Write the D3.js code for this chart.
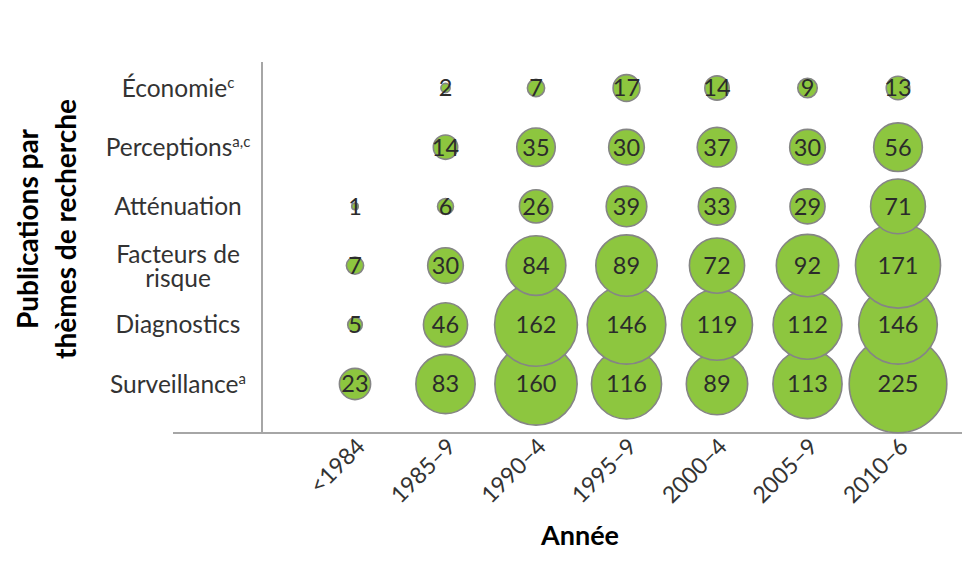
<!DOCTYPE html>
<html><head><meta charset="utf-8">
<script src="https://cdn.jsdelivr.net/npm/d3@7"></script>
<style>
html,body{margin:0;padding:0;background:#fff;}
svg{display:block;}
text{font-family:Lato,"Open Sans",sans-serif;}
</style></head>
<body>
<svg id="chart" width="980" height="574"></svg>
<script>
// ---- data ----
const periods = ["<1984","1985–9","1990–4","1995–9","2000–4","2005–9","2010–6"];
const themes = ["Économie","Perceptions","Atténuation","Facteurs de risque","Diagnostics","Surveillance"];
const themeLines = [["Économie"],["Perceptions"],["Atténuation"],["Facteurs de","risque"],["Diagnostics"],["Surveillance"]];
const themeSup = ["c","a,c","","","","a"];
const economie     = [null,2,7,17,14,9,13];
const perceptions  = [null,14,35,30,37,30,56];
const attenuation  = [1,6,26,39,33,29,71];
const facteurs     = [7,30,84,89,72,92,171];
const diagnostics  = [5,46,162,146,119,112,146];
const surveillance = [23,83,160,116,89,113,225];
const seriesValues = [economie,perceptions,attenuation,facteurs,diagnostics,surveillance];
const yTitle = ["Publications par","thèmes de recherche"];
const xTitle = "Année";

// ---- build ----
const svg = d3.select("#chart");
const x = d3.scalePoint().domain(periods).range([355, 898]);
const y = d3.scalePoint().domain(themes).range([88, 384]);
const r = d3.scaleSqrt().domain([0, 225]).range([0, 48.8]);

const cells = [];
// draw bottom row first so upper rows overlap on top
for (let ti = themes.length - 1; ti >= 0; ti--) {
  seriesValues[ti].forEach((v, pi) => {
    if (v != null) cells.push({theme: themes[ti], period: periods[pi], value: v});
  });
}

// axes lines
const axisColor = "#a6a6a6";
svg.append("line").attr("x1",262).attr("x2",262).attr("y1",62).attr("y2",433)
  .attr("stroke",axisColor).attr("stroke-width",2);
svg.append("line").attr("x1",173).attr("x2",962).attr("y1",433).attr("y2",433)
  .attr("stroke",axisColor).attr("stroke-width",2);

// bubbles
svg.append("g").selectAll("circle").data(cells).join("circle")
  .attr("cx", d => x(d.period))
  .attr("cy", d => y(d.theme))
  .attr("r", d => r(d.value))
  .attr("fill", "#8dc63f")
  .attr("stroke", "#858585")
  .attr("stroke-width", 1.6);

// value labels
svg.append("g").selectAll("text").data(cells).join("text")
  .attr("x", d => x(d.period))
  .attr("y", d => y(d.theme))
  .attr("dy", "0.36em")
  .attr("text-anchor", "middle")
  .attr("font-size", 23.5)
  .attr("fill", "#2b2b2b")
  .text(d => d.value);

// x tick labels via axis
const xAxis = d3.axisBottom(x).tickSize(0).tickPadding(0);
const gx = svg.append("g").attr("transform","translate(0,433)").call(xAxis);
gx.select(".domain").remove();
gx.selectAll(".tick text")
  .attr("font-family","Lato, sans-serif")
  .attr("font-size",23)
  .attr("fill","#333")
  .attr("text-anchor","end")
  .attr("dy",null)
  .attr("y",null)
  .attr("transform","translate(11,15) rotate(-45)");

// y category labels
const gy = svg.append("g");
themes.forEach((t, i) => {
  const lines = themeLines[i];
  const cy = y(t);
  const lh = 24;
  const base = cy + 8.5 - (lines.length - 1) * lh / 2 + (lines.length > 1 ? 1 : 0);
  lines.forEach((ln, li) => {
    const txt = gy.append("text")
      .attr("x", 178).attr("y", base + li*lh).attr("text-anchor","middle")
      .attr("font-size", 24.5).attr("fill","#333").text(ln);
    if (li === lines.length - 1 && themeSup[i]) {
      txt.append("tspan").attr("font-size",15).attr("dy",-9).text(themeSup[i]);
    }
  });
});

// y title
const yt = svg.append("text")
  .attr("transform","translate(38,229) rotate(-90)")
  .attr("text-anchor","middle")
  .attr("font-weight","bold")
  .attr("font-size",28)
  .attr("fill","#000");
yTitle.forEach((ln, i) => {
  yt.append("tspan").attr("x",0).attr("y", i*38).text(ln);
});

// x title
svg.append("text")
  .attr("x",580).attr("y",545)
  .attr("text-anchor","middle")
  .attr("font-weight","bold")
  .attr("font-size",27)
  .attr("fill","#000")
  .text(xTitle);
</script>
</body></html>
